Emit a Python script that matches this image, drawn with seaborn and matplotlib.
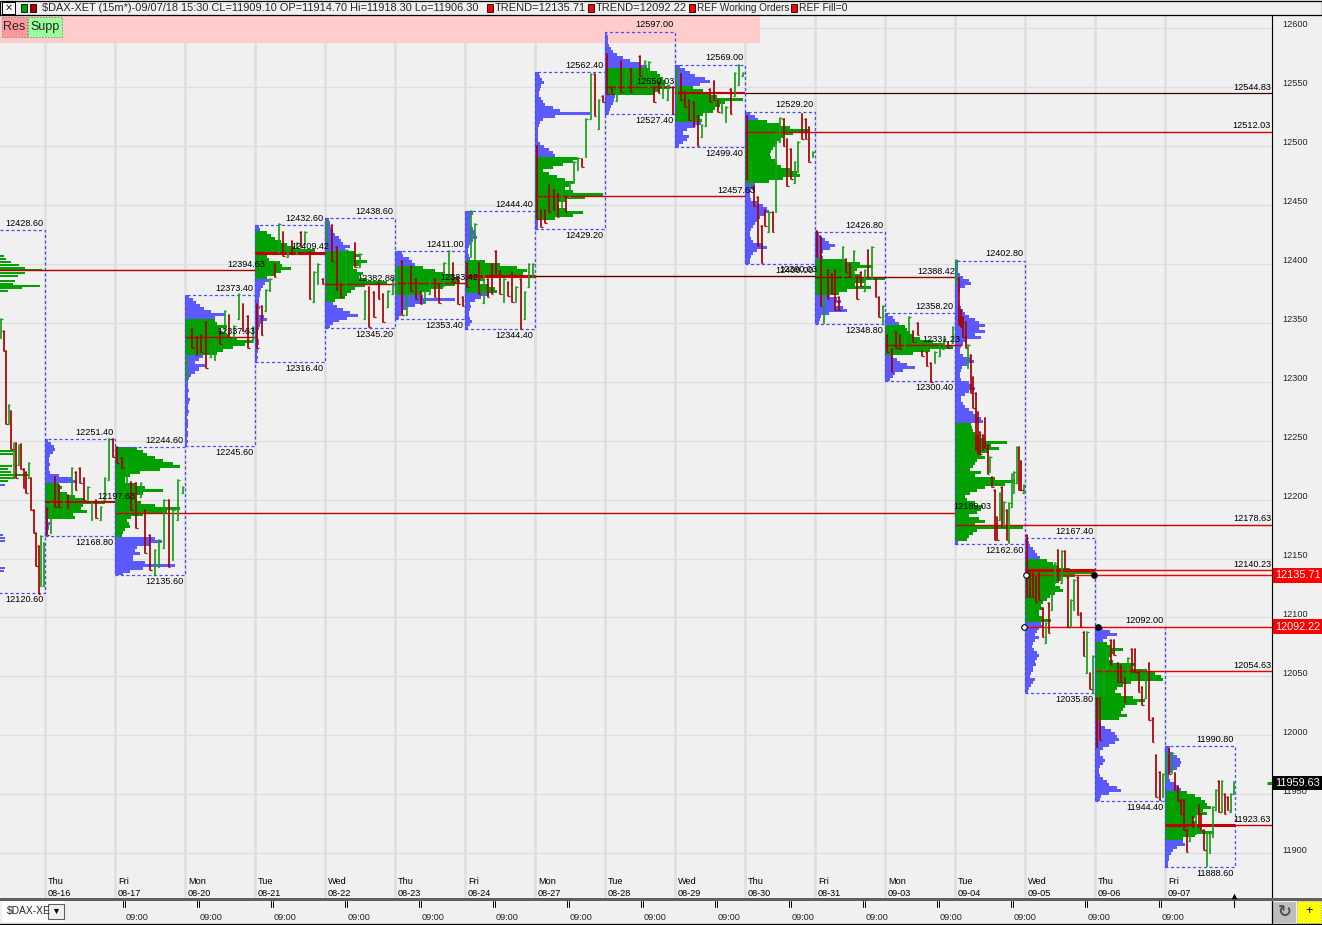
import numpy as np
import pandas as pd
import matplotlib
matplotlib.use('Agg')
import matplotlib.pyplot as plt
from matplotlib.patches import Rectangle
from matplotlib.transforms import ScaledTranslation
import seaborn as sns

# session labels along the bottom of the chart
day_names = ['Thu', 'Fri', 'Mon', 'Tue', 'Wed', 'Thu', 'Fri', 'Mon', 'Tue', 'Wed', 'Thu', 'Fri', 'Mon', 'Tue', 'Wed', 'Thu', 'Fri']
day_dates = ['08-16', '08-17', '08-20', '08-21', '08-22', '08-23', '08-24', '08-27', '08-28', '08-29', '08-30', '08-31', '09-03', '09-04', '09-05', '09-06', '09-07']

# session high / low, first one is the 08-15 session cut by the left edge
sess_hi = [12428.6, 12251.4, 12244.6, 12373.4, 12432.6, 12438.6, 12411.0, 12444.4, 12562.4, 12597.0, 12569.0, 12529.2, 12426.8, 12358.2, 12402.8, 12167.4, 12092.0, 11990.8]
sess_lo = [12120.6, 12168.8, 12135.6, 12245.6, 12316.4, 12345.2, 12353.4, 12344.4, 12429.2, 12527.4, 12499.4, 12400.0, 12348.8, 12300.4, 12162.6, 12035.8, 11944.4, 11888.6]

# volume profile rows of each session, top to bottom: above value area, value area, below
p0816 = ([3,6,9,10,8,5,4,4,5,4,4,5,14,27,32], [14,17,15,22,30,40,60,38,36,42,28,30], [3,5,4,4,3,2])
p0817 = ([], [22,28,32,40,48,58,65,45,25,15,10,10,20,30,48,28,20,22,26,40,65,52,28,16,12,14,15,10,8,7], [40,47,35,22,20,25,18,18,30,60,28,15,8])
p0820 = ([4,8,11,15,19,26,40,30], [30,32,42,35,38,44,52,68,60,48,38,32], [18,14,10,20,14,10,6,4,3,3,3,4,3,3,5,4,3,3,4,3,2,3,3,3,2,3,3,2,3,2])
p0821 = ([4,5], [12,16,20,26,32,40,60,30,12,14,25,27,36,26,20,12], [14,10,8,6,5,5,4,4,4,5,4,4,9,12,6,5,4,3,3,3,4,4,3,3,3,2,3,2])
p0822 = ([4,5,5,6,8,10,14,16,18,25,20], [30,35,30,42,34,28,32,38,34,42,62,40,30,26,22,20,10], [8,12,18,25,33,22,14,8,5])
p0823 = ([7,8,14,17,20], [28,40,50,58,62,65,60,48,35,25], [28,60,30,20,12,8,6,4])
p0824 = ([8,6,5,5,6,8,10,10,12,8,5,4,3,3,4,5], [20,35,52,62,58,38,20,15,24,30,32], [24,16,10,5,6,5,4,4,5,7,5,3])
p0827 = ([4,5,7,9,6,5,4,4,6,8,10,18,25,55,20,8,5,4,3,3,3,3,3,5,9,14,18,20], [42,38,28,18,8,14,22,30,38,34,30,38,68,50,30,22,24,32,48,38,20], [3,3,3])
p0828 = ([2,3,3,3,4,6,8,12,18,25,35,42], [45,52,55,58,60,60,65,55,50], [10,9,8,6,5,4])
p0829 = ([5,10,15,20,30,35,25], [18,28,35,42,68,50,45,40,38,28,25,27], [26,20,12,8,14,12,8,4])
p0830 = ([5,10,13], [22,35,45,65,48,38,35,32,30,28,26,25,26,30,32,36,45,52,55,38,24], [10,8,6,5,5,6,12,18,22,24,20,15,12,10,8,6,5,5,6,8,18,22,12,8,6,5,5])
p0831 = ([4,6,10,14,20,15,8,6,8], [30,45,58,42,38,45,70,50,40,56,32,24], [15,22,26,20,28,32,14,6,5,4])
p0903 = ([3,8,10,14], [20,22,25,28,35,48,60,68,45,28], [8,12,15,22,30,18,10,8,5])
p0904 = ([3,3,3,3,5,8,14,16,10,5,4,3,3,4,4,6,8,10,14,20,24,30,24,30,20,26,12,8,6,5,5,8,16,19,12,7,6,5,5,6,14,17,20,14,10,6,6,8,10,14,18,22,26,28],
         [16,17,18,20,24,30,52,36,44,34,26,30,22,20,18,15,26,20,40,60,50,30,22,15,10,12,20,28,26,22,14,24,30,20,68,22,18,14,12], [3])
p0905 = ([3,4,5,8,10,12,15], [22,28,34,45,68,50,36,34,30,35,38,30,25,22,18,16,18,14,14,18,26], [16,18,14,12,10,14,10,8,7,9,12,14,12,10,11,8,8,6,5,10,8,6,4,3])
p0906 = ([8,15,22,12,8], [12,16,28,18,16,14,18,40,36,52,60,66,68,36,28,22,20,26,38,50,42,30,28,26,32,24], [4,6,10,16,20,22,24,20,14,8,5,5,8,10,8,5,4,4,5,8,12,14,22,26,14,6,5])
p0907 = ([5,5,8,12,15,16,15,12,6,4,4,5,10,14,16], [22,30,36,40,42,46,38,42,30,28,32,68,36,48,30,18], [18,20,12,8,6,4,4,3,3])
profiles = [p0816, p0817, p0820, p0821, p0822, p0823, p0824, p0827, p0828, p0829, p0830, p0831, p0903, p0904, p0905, p0906, p0907]

# the cut off 08-15 profile only shows its widest rows
p0815_green_price = [12406.7, 12404.0, 12401.6, 12399.0, 12396.5, 12394.8, 12392.2, 12389.7, 12385.4, 12383.0, 12381.2, 12379.5, 12377.0, 12241.2, 12238.7, 12228.5, 12226.0, 12223.4, 12220.9, 12218.4, 12215.8]
p0815_green_w = [29, 31, 36, 44, 50, 67, 50, 43, 40, 38, 65, 47, 33, 40, 38, 37, 33, 36, 53, 40, 33]
p0815_blue_price = [12212.4, 12170.0, 12167.4, 12164.9, 12142.0, 12139.4]
p0815_blue_w = [30, 28, 30, 30, 30, 29]

# 15 minute bars, one list of highs, one of lows, one of directions
h0815 = [12350,12340,12323,12277,12272,12245,12245,12243,12244,12223,12220,12228,12215,12188,12169,12158,12166,12160]
l0815 = [12334,12323,12261,12261,12240,12215,12215,12226,12223,12207,12203,12215,12188,12169,12141,12117,12124,12124]
c0815 = 'grrgrgrgrrrgrrrrgg'
h0816 = [12190,12194,12216,12209,12203,12201,12224,12220,12224,12215,12208,12194,12197,12191,12215,12248,12248]
l0816 = [12167,12169,12191,12191,12182,12190,12201,12205,12211,12197,12197,12180,12181,12180,12197,12214,12233]
c0816 = 'rgrrgrgrrrggrgggr'
h0817 = [12242,12232,12232,12212,12211,12211,12188,12167,12154,12163,12197,12197,12188,12214,12208]
l0817 = [12228,12224,12207,12188,12173,12199,12152,12137,12133,12140,12156,12140,12146,12180,12203]
c0817 = 'rrgrrgrrgggrggg'
h0820 = [12318,12342,12335,12337,12348,12329,12331,12340,12357,12354,12344,12371,12363,12353,12343]
l0820 = [12299,12326,12320,12322,12309,12318,12315,12329,12339,12335,12333,12350,12340,12326,12331]
c0820 = 'grrrrggrgrggrrg'
h0821 = [12363,12361,12375,12384,12397,12431,12424,12411,12416,12415,12424,12424,12407,12390,12397,12384]
l0821 = [12326,12337,12357,12374,12386,12407,12404,12403,12405,12405,12411,12414,12367,12365,12380,12380]
c0821 = 'rrggrgrgrgrgrggr'
h0822 = [12433,12430,12411,12380,12409,12397,12415,12405,12374,12377,12373,12381,12371,12374,12384]
l0822 = [12411,12399,12375,12369,12371,12384,12394,12394,12350,12343,12352,12367,12348,12360,12371]
c0822 = 'grrrggrggrrrrgg'
h0823 = [12394,12399,12380,12395,12384,12373,12377,12384,12384,12380,12398,12408,12398,12386,12369]
l0823 = [12371,12354,12354,12374,12367,12363,12364,12371,12369,12364,12378,12386,12382,12363,12361]
c0823 = 'grgrrrggrrggrrr'
h0824 = [12398,12442,12431,12398,12388,12384,12397,12408,12391,12384,12382,12390,12377,12384,12373,12397,12397]
l0824 = [12377,12403,12401,12371,12364,12369,12371,12386,12371,12365,12370,12365,12365,12342,12350,12377,12386]
c0824 = 'rggrgrrrrgrrgrggg'
h0827 = [12497,12443,12443,12464,12460,12456,12466,12454,12466,12483,12487,12486,12520,12558,12558,12536,12539]
l0827 = [12435,12428,12432,12441,12443,12437,12443,12441,12454,12466,12477,12479,12488,12520,12522,12511,12534]
c0827 = 'rrrrrrgrgggrggrgr'
h0828 = [12575,12547,12549,12569,12562,12562,12562,12573,12569,12568,12547,12551,12551,12549,12547]
l0828 = [12541,12541,12535,12543,12545,12543,12551,12556,12556,12547,12534,12542,12538,12536,12524]
c0828 = 'rrgrgrgrggrrggr'
h0829 = [12562,12558,12543,12536,12534,12522,12515,12528,12545,12552,12536,12536,12530,12545,12559,12566,12559]
l0829 = [12536,12536,12530,12519,12514,12497,12505,12514,12534,12536,12526,12525,12517,12524,12539,12549,12556]
c0829 = 'grrrrrggrrrggrggg'
h0830 = [12522,12483,12463,12454,12429,12443,12441,12441,12508,12521,12520,12503,12494,12483,12500,12524,12520,12513,12492]
l0830 = [12469,12463,12446,12412,12398,12429,12424,12424,12441,12500,12497,12463,12469,12466,12475,12503,12503,12483,12488]
c0830 = 'rgrrrrgrggrrrggrrrg'
h0831 = [12425,12420,12369,12392,12388,12392,12369,12411,12401,12397,12408,12386,12390,12392,12409,12411,12384,12369,12361]
l0831 = [12403,12361,12347,12367,12371,12358,12358,12384,12390,12386,12386,12367,12378,12374,12386,12384,12369,12352,12347]
c0831 = 'rrgrrrrgrrgrrgrgrrg'
h0903 = [12337,12325,12339,12337,12336,12352,12340,12347,12323,12322,12313,12322,12330,12333,12331,12343]
l0903 = [12322,12305,12326,12325,12326,12339,12331,12337,12319,12310,12297,12313,12319,12325,12326,12330]
c0903 = 'rrrrggrrrrrgggrg'
h0904 = [12400,12385,12358,12352,12348,12328,12320,12301,12287,12271,12254,12252,12266,12243,12233,12216,12205,12182,12203,12208,12195,12188,12194,12219,12220,12242,12242,12230,12209]
l0904 = [12381,12345,12343,12335,12326,12309,12287,12275,12239,12236,12236,12239,12241,12219,12220,12208,12163,12163,12180,12174,12174,12163,12160,12191,12203,12211,12205,12205,12203]
c0904 = 'grrrrgrrrrrrrrgrrrgrgrggggrrg'
h0905 = [12167,12137,12135,12131,12135,12105,12092,12109,12120,12143,12154,12153,12153,12131,12112,12129,12131,12101,12085,12085,12050,12064]
l0905 = [12114,12114,12114,12110,12112,12080,12075,12084,12103,12126,12129,12126,12139,12089,12089,12103,12099,12089,12064,12050,12036,12033]
c0905 = 'rrrrrrgrggrgrrggrrrgrg'
h0906 = [12029,12029,12053,12070,12078,12078,12058,12057,12046,12063,12070,12070,12051,12038,12048,12058,12012,11980,11966,11964]
l0906 = [11987,11993,12031,12053,12057,12065,12042,12042,12025,12042,12051,12051,12034,12023,12029,12010,11991,11945,11942,11945]
c0906 = 'rrggrrrrrgrrrrgrrrrg'
h0907 = [11982,11985,11982,11965,11953,11942,11942,11917,11919,11928,11934,11938,11930,11917,11914,11914,11936,11951,11958,11958,11947,11945,11947,11957]
l0907 = [11957,11964,11965,11951,11941,11930,11917,11898,11907,11919,11913,11919,11917,11900,11886,11897,11911,11934,11932,11932,11930,11934,11932,11947]
c0907 = 'grgrrrrrgrgrrrggggrgrrgg'
bar_highs = [h0815, h0816, h0817, h0820, h0821, h0822, h0823, h0824, h0827, h0828, h0829, h0830, h0831, h0903, h0904, h0905, h0906, h0907]
bar_lows = [l0815, l0816, l0817, l0820, l0821, l0822, l0823, l0824, l0827, l0828, l0829, l0830, l0831, l0903, l0904, l0905, l0906, l0907]
bar_dirs = [c0815, c0816, c0817, c0820, c0821, c0822, c0823, c0824, c0827, c0828, c0829, c0830, c0831, c0903, c0904, c0905, c0906, c0907]

# price levels: value, first session, last session (17.53 is the right edge)
level_price = [12394.63, 12197.63, 12189.03, 12337.63, 12409.42, 12382.88, 12383.42, 12390.03, 12390.03, 12457.63, 12550.03, 12544.83, 12544.83, 12512.03, 12388.42, 12331.23, 12178.63, 12140.23, 12140.23, 12054.63, 11923.63, 11923.63]
level_from = [-1, 0, 1, 2, 3, 4, 5, 6, 7, 7, 8, 9, 10, 10, 11, 12, 13, 14, 15, 15, 16, 17]
level_to = [3, 1, 13, 3, 4, 5, 6, 7, 11, 10, 9, 10, 17.53, 17.53, 13, 13.1, 17.53, 15, 17.53, 17.53, 17, 17.53]
level_lw = [1, 1.5, 1, 1, 2.2, 1, 1, 2.2, 1, 1, 1, 1.6, 0.9, 1, 1, 1, 1, 2.2, 1, 1, 2.2, 1]
level_col = ['#b00000', '#c00000', '#d00000', '#c00000', '#c00000', '#c00000', '#c00000', '#c00000', '#600000', '#d00000', '#c00000', '#c00000', '#400000', '#d00000', '#900000', '#c00000', '#d00000', '#c80000', '#e00000', '#e00000', '#c00000', '#c00000']

# the printed level values and the pixel where each one ends
label_price = [12394.63, 12197.63, 12189.03, 12337.63, 12409.42, 12382.88, 12383.42, 12390.03, 12457.63, 12550.03, 12544.83, 12512.03, 12388.42, 12331.23, 12178.63, 12140.23, 12054.63, 11923.63]
label_end = [265, 135, 991, 255, 329, 395, 478, 817, 755, 675, 1271, 1271, 955, 960, 1271, 1271, 1271, 1271]

trend_price = [12135.71, 12092.22]
trend_open_px = [1026, 1024]
trend_close_px = [1094, 1098]
last_price = 11959.63

major_ticks = [11900, 11950, 12000, 12050, 12100, 12150, 12200, 12250, 12300, 12350, 12400, 12450, 12500, 12550, 12600]
minor_ticks = [11875, 11925, 11975, 12025, 12075, 12125, 12175, 12225, 12275, 12325, 12375, 12425, 12475, 12525, 12575]
time_labels = ['09:00'] * 15

BLUE = '#5a5aff'
GREEN = '#00a000'
BG = '#f0f0f0'
LABEL_FONT = 6.6
BAR_READ_OFFSET = 3  # bars were read against the tick labels, which sit 3 points off their ticks

sns.set_style('white', {'axes.facecolor': BG, 'figure.facecolor': BG})
plt.rcParams['font.family'] = ['Liberation Sans', 'DejaVu Sans']

fig = plt.figure(figsize=(13.22, 9.25), dpi=100, facecolor=BG)
ax = fig.add_axes([0, 27 / 925, 1272 / 1322, 883 / 925], zorder=2)
ax.patch.set_facecolor(BG)
px = fig.add_axes([0, 0, 1, 1], zorder=5)
px.set_xlim(0, 1322)
px.set_ylim(925, 0)
px.axis('off')


def to_x(pixel):
    return (pixel - 45) / 70


ax.set_xlim(to_x(0), to_x(1272))
ax.set_ylim(11862, 12611.1)

ax.set_xticks(range(17))
ax.set_xticklabels([])
ax.set_yticks(major_ticks)
ax.set_yticks(minor_ticks, minor=True)
ax.yaxis.tick_right()
ax.tick_params(axis='x', length=0)
ax.tick_params(axis='y', which='major', length=5.8, width=0.8, pad=1.5, labelsize=LABEL_FONT, color='black')
ax.tick_params(axis='y', which='minor', length=2.2, width=0.8, color='black')
ax.grid(True, axis='y', which='major', color='#dedede', lw=0.9)
ax.grid(True, axis='x', color='#e0e0e0', lw=1.9)
ax.set_axisbelow(True)
for lab in ax.get_yticklabels():
    lab.set_transform(lab.get_transform() + ScaledTranslation(0, 3 / 72, fig.dpi_scale_trans))
sns.despine(ax=ax, left=True, bottom=True, right=False, top=True)
ax.spines['right'].set_color('black')

# pink band of the Res / Supp strip hides the grid
ax.add_patch(Rectangle((0, 15), 760, 28, transform=px.transData, fc='#ffcccc', ec='none', zorder=0.8))

# profiles
for i, (top, va, bot) in enumerate(profiles, start=1):
    hi, lo = sess_hi[i], sess_lo[i]
    widths = np.array(top + va + bot) / 70
    row = (hi - lo) / len(widths)
    levels = hi - row * (np.arange(len(widths)) + 0.5)
    cols = [BLUE] * len(top) + [GREEN] * len(va) + [BLUE] * len(bot)
    ax.barh(levels, widths, height=row, left=i - 1, color=cols, lw=0, zorder=2)
ax.barh(p0815_green_price, np.array(p0815_green_w) / 70, height=2.1, left=-1, color=GREEN, lw=0, zorder=2)
ax.barh(p0815_blue_price, np.array(p0815_blue_w) / 70, height=2.1, left=-1, color=BLUE, lw=0, zorder=2)

# dashed session boxes and their high / low values
for i, (hi, lo) in enumerate(zip(sess_hi, sess_lo)):
    ax.add_patch(Rectangle((i - 1, lo), 1, hi - lo, fill=False, ec='#4a4aff', lw=0.9, ls=(0, (2.4, 2)), zorder=3))
    ax.annotate(f'{hi:.2f}', (i, hi), xytext=(-1, 4.8), textcoords='offset points', ha='right', va='center', fontsize=LABEL_FONT, color='black', zorder=7)
    ax.annotate(f'{lo:.2f}', (i, lo), xytext=(-1, -4.6), textcoords='offset points', ha='right', va='center', fontsize=LABEL_FONT, color='black', zorder=7)

# level lines
ax.hlines(level_price, level_from, level_to, colors=level_col, linewidths=level_lw, zorder=4)
ax.hlines(trend_price, to_x(np.array(trend_open_px)), to_x(1272), colors='#f00000', linewidths=1, zorder=4)

# bars, one unit per bar so seaborn leaves the vertical segments alone
rows = []
for s, (hs, ls, ds) in enumerate(zip(bar_highs, bar_lows, bar_dirs)):
    start = s - 1 + (25 / 70 if s == 0 else 0)
    span = s - start
    for b, (h, l, d) in enumerate(zip(hs, ls, ds)):
        x = start + span * (b + 0.5) / len(hs)
        rows.append((f'{s}-{b}', x, h + BAR_READ_OFFSET, d))
        rows.append((f'{s}-{b}', x, l + BAR_READ_OFFSET, d))
bars = pd.DataFrame(rows, columns=['bar', 'x', 'price', 'dir'])
sns.lineplot(data=bars, x='x', y='price', hue='dir', units='bar', estimator=None, sort=False,
             palette={'r': '#a80000', 'g': '#18a018'}, lw=1.25, legend=False, ax=ax, zorder=5)
ax.set_xlabel('')
ax.set_ylabel('')

# open and close ticks on the bars
wide = 1.6 / 70
top_rows = bars.iloc[::2]
low_rows = bars.iloc[1::2]
for part, side, colour_key in [(top_rows, -wide, 'r'), (low_rows, wide, 'r'), (low_rows, -wide, 'g'), (top_rows, wide, 'g')]:
    sub = part[part['dir'] == colour_key]
    x0 = sub['x'].to_numpy()
    ax.hlines(sub['price'], np.minimum(x0, x0 + side), np.maximum(x0, x0 + side),
              colors='#a80000' if colour_key == 'r' else '#18a018', linewidths=0.9, zorder=5)

# level values
for price, end in zip(label_price, label_end):
    ax.annotate(f'{price:.2f}', (to_x(end), price), xytext=(0, 4.2), textcoords='offset points', ha='right', va='center',
                fontsize=LABEL_FONT, color='black', zorder=7, annotation_clip=False)

# trend line handles
sns.scatterplot(x=to_x(np.array(trend_open_px)), y=trend_price, s=16, color='white', edgecolor='black', linewidth=0.8, ax=ax, zorder=6, legend=False)
sns.scatterplot(x=to_x(np.array(trend_close_px)), y=trend_price, s=16, color='black', edgecolor='black', linewidth=0.8, ax=ax, zorder=6, legend=False)

# price tags over the right axis
for price, fc in [(trend_price[0], '#ff0000'), (trend_price[1], '#ff0000'), (last_price, 'black')]:
    ax.annotate(f'{price:.2f}', (1.0, price), xycoords=('axes fraction', 'data'), xytext=(2.4, 0), textcoords='offset points', ha='left', va='center',
                fontsize=7.8, color='white', zorder=8, annotation_clip=False,
                bbox=dict(fc=fc, ec='none', boxstyle='square,pad=0.2'))
ax.hlines(last_price, to_x(1267), to_x(1272), colors='#00a000', linewidths=2.2, zorder=6)

# day labels inside the bottom of the chart
for i, (dn, dd) in enumerate(zip(day_names, day_dates)):
    start_px = 48 + 70 * i
    px.text(start_px, 882, dn, fontsize=LABEL_FONT, ha='left', va='center', color='black')
    px.text(start_px, 893, dd, fontsize=LABEL_FONT, ha='left', va='center', color='black')

# top caption strip
px.add_patch(Rectangle((0, 1), 1322, 14, fc=BG, ec='black', lw=0.9))
px.add_patch(Rectangle((2, 2), 13, 12, fc='white', ec='black', lw=0.7))
px.text(8.5, 8, '✕', fontsize=7, ha='center', va='center', family='DejaVu Sans')
px.add_patch(Rectangle((21, 4), 6, 8, fc='#00a000', ec='black', lw=0.6))
px.add_patch(Rectangle((30, 4), 6, 8, fc='#b00000', ec='black', lw=0.6))
px.text(42, 8, r'\$DAX-XET (15m*)-09/07/18 15:30 CL=11909.10 OP=11914.70 Hi=11918.30 Lo=11906.30', fontsize=7.95, ha='left', va='center')
for sq, txt, fs in [(487, 'TREND=12135.71', 8), (588, 'TREND=12092.22', 8), (689, 'REF Working Orders', 7.2), (791, 'REF Fill=0', 7.4)]:
    px.add_patch(Rectangle((sq, 4), 6, 8, fc='#ff0000', ec='black', lw=0.6))
    px.text(sq + 8, 8, txt, fontsize=fs, ha='left', va='center')

# Res and Supp buttons
px.add_patch(Rectangle((2, 17), 25, 20, fc='#ff9999', ec='#888888', lw=0.7, ls=(0, (1.5, 1.5))))
px.add_patch(Rectangle((28, 17), 34, 20, fc='#99ff99', ec='#888888', lw=0.7, ls=(0, (1.5, 1.5))))
px.text(14.5, 27, 'Res', fontsize=9, ha='center', va='center')
px.text(45, 27, 'Supp', fontsize=9, ha='center', va='center')

# bottom time strip
px.add_patch(Rectangle((0, 898), 1322, 3, fc='#606060', ec='none'))
px.plot([0, 1322], [923.5, 923.5], color='black', lw=0.9)
px.plot([1272, 1272], [901, 924], color='black', lw=0.9)
for i, lab in enumerate(time_labels):
    tick = 124 + 74 * i
    px.plot([tick - 1, tick - 1], [901, 907], color='black', lw=0.7)
    px.plot([tick + 1, tick + 1], [901, 907], color='black', lw=0.7)
    px.text(tick + 13, 917, lab, fontsize=LABEL_FONT, ha='center', va='center')
px.plot([1234, 1234], [901, 907], color='black', lw=0.8)
px.scatter([1234], [895.5], marker='^', s=16, color='black', lw=0)
px.add_patch(Rectangle((2, 901), 62, 21, fc='white', ec='none'))
px.add_patch(Rectangle((48, 904), 16, 15, fc=BG, ec='#606060', lw=0.8))
px.text(7, 911, r'\$DAX-XE', fontsize=7.4, ha='left', va='center')
px.scatter([56], [911], marker='v', s=14, color='black', lw=0)
px.add_patch(Rectangle((1273, 902), 23, 21, fc='#bdbdbd', ec='none'))
px.text(1284.5, 912, '↻', fontsize=12, ha='center', va='center', color='#505050', family='DejaVu Sans', fontweight='bold')
px.add_patch(Rectangle((1297, 901), 24, 22, fc='#ffff00', ec='#a0a0a0', lw=0.6, ls=(0, (1.5, 1.5))))
px.text(1309.5, 911, '+', fontsize=9, ha='center', va='center', color='black')

fig.savefig('out.png', dpi=100, facecolor=BG)
